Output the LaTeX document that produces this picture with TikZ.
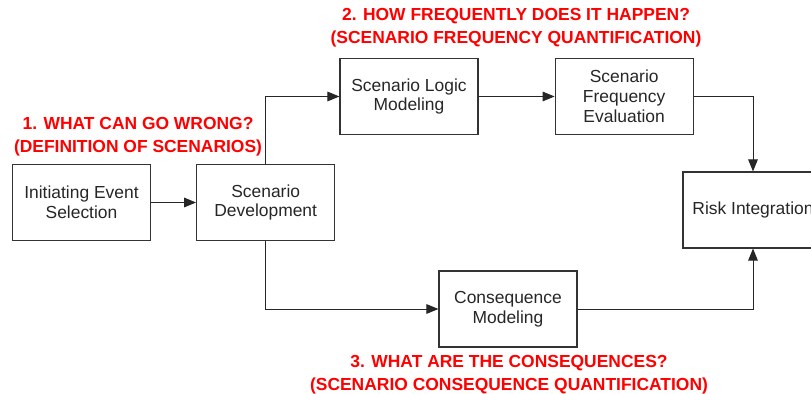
\documentclass[tikz,border=0pt]{standalone}
\usepackage{fontspec}
\setmainfont{Liberation Sans}
\usepackage{xcolor}
\usetikzlibrary{positioning}
\usetikzlibrary{arrows.meta}

\begin{document}
\begin{tikzpicture}[x=0.025cm, y=-0.025cm]
			\tikzstyle{box} = [draw=black!80, line width=0.8pt, rectangle, minimum width=3.45cm, minimum height=1.9cm, align=center, text=black!85, font=\fontsize{12.4}{14.2}\selectfont]
			\tikzstyle{arrow} = [-{Triangle[length=3mm, width=2.4mm]}, line width=0.7pt, black!85]
			\tikzstyle{question} = [align=center, text=red, font=\fontsize{12.4}{16.3}\selectfont\bfseries]
			
			\useasboundingbox (0,0) rectangle (811,394);
			\clip (0,0) rectangle (811,394);
			
			\node [box] (ies) at (81.5,202.5) {Initiating Event\\Selection};
			\node [box, right=1.125cm of ies] (sd) {Scenario\\Development};
			\node [box] (slm) at (409,96.5) {Scenario Logic\\Modeling};
			\node [box, right=1.9cm of slm] (sfe) {Scenario\\Frequency\\Evaluation};
			\node [box, minimum width=3.5cm] (ri) at (753,210) {Risk Integration};
			\node [box] (cm) at (508,309) {Consequence\\Modeling};
			
			\node [question] (q1) at (138,137) {1. WHAT CAN GO WRONG?\\(DEFINITION OF SCENARIOS)};
			\node [question] (q2) at (516,28) {2. HOW FREQUENTLY DOES IT HAPPEN?\\(SCENARIO FREQUENCY QUANTIFICATION)};
			\node [question] (q3) at (509,375) {3. WHAT ARE THE CONSEQUENCES?\\(SCENARIO CONSEQUENCE QUANTIFICATION)};
			
			\draw [arrow] (ies) -- (sd);
			\draw [arrow] (sd.north) |- (slm.west);
			\draw [arrow] (slm) -- (sfe);
			\draw [arrow] (sfe.east) -| (ri.north);
			\draw [arrow] (sd.south) |- (cm.west);
			\draw [arrow] (cm.east) -| (ri.south);
\end{tikzpicture}
\end{document}
